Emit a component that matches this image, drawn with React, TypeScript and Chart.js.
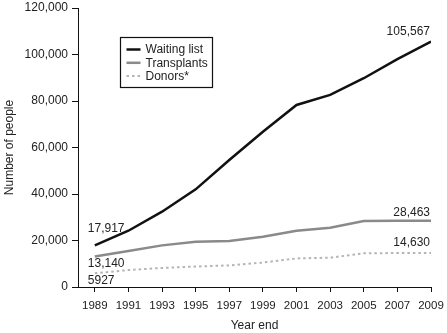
import React, { useEffect, useRef } from "react";
import { Chart, registerables } from "chart.js";

Chart.register(...registerables);

const years = [1989, 1991, 1993, 1995, 1997, 1999, 2001, 2003, 2005, 2007, 2009];
const waitingList = [17917, 24200, 32400, 42000, 54600, 66800, 78300, 82600, 89800, 98000, 105567];
const transplants = [13140, 15500, 17900, 19500, 19800, 21600, 24200, 25500, 28400, 28450, 28463];
const donors = [5927, 7300, 8200, 8800, 9300, 10500, 12300, 12600, 14500, 14600, 14630];
const seriesLabels = ["Waiting list", "Transplants", "Donors*"];
const startLabels = ["17,917", "13,140", "5927"];
const endLabels = ["105,567", "28,463", "14,630"];
const yTicks = [0, 20000, 40000, 60000, 80000, 100000, 120000];

const FONT = '"Liberation Sans", Arial, Helvetica, sans-serif';
const colors = ["#111111", "#8a8a8a", "#b4b4b4"];
const widths = [2.5, 2.5, 2];
const dashes: number[][] = [[], [], [2.5, 3]];

const annotPlugin = {
  id: "annot",
  afterDatasetsDraw(chart: any) {
    const ctx = chart.ctx;
    const xs = chart.scales.x;
    const ys = chart.scales.y;
    const data = [waitingList, transplants, donors];
    const startOff = [-17, 7, 7];
    const endOff = [-10, -8, -10];
    ctx.save();
    ctx.font = `12px ${FONT}`;
    ctx.fillStyle = "#222";
    ctx.textBaseline = "middle";
    data.forEach((arr, i) => {
      const x0 = xs.getPixelForValue(years[0]);
      const y0 = ys.getPixelForValue(arr[0]);
      ctx.textAlign = "left";
      ctx.fillText(startLabels[i], x0 - 7, y0 + startOff[i]);
      const x1 = xs.getPixelForValue(years[years.length - 1]);
      const y1 = ys.getPixelForValue(arr[arr.length - 1]);
      ctx.textAlign = "right";
      ctx.fillText(endLabels[i], x1 - 1, y1 + endOff[i]);
    });

    // legend box
    const ca = chart.chartArea;
    const bx = Math.round(ca.left + 42) + 0.5;
    const by = Math.round(ca.top + 29) + 0.5;
    const bw = 92;
    const bh = 50;
    ctx.fillStyle = "#fff";
    ctx.fillRect(bx, by, bw, bh);
    ctx.strokeStyle = "#111";
    ctx.lineWidth = 1.2;
    ctx.setLineDash([]);
    ctx.strokeRect(bx, by, bw, bh);
    seriesLabels.forEach((lab, i) => {
      const ly = by + 12 + i * 13.3;
      ctx.strokeStyle = colors[i];
      ctx.lineWidth = widths[i];
      ctx.setLineDash(dashes[i]);
      ctx.beginPath();
      ctx.moveTo(bx + 6, ly);
      ctx.lineTo(bx + 20, ly);
      ctx.stroke();
      ctx.setLineDash([]);
      ctx.fillStyle = "#222";
      ctx.textAlign = "left";
      ctx.fillText(lab, bx + 25, ly + 0.5);
    });
    ctx.restore();
  },
};

export default function App() {
  const ref = useRef<HTMLCanvasElement | null>(null);
  useEffect(() => {
    if (!ref.current) return;
    const series = [waitingList, transplants, donors];
    const chart = new Chart(ref.current, {
      type: "line",
      data: {
        datasets: series.map((arr, i) => ({
          label: seriesLabels[i],
          data: arr.map((v, j) => ({ x: years[j], y: v })),
          borderColor: colors[i],
          borderWidth: widths[i],
          borderDash: dashes[i],
          pointRadius: 0,
          tension: 0,
          fill: false,
        })),
      },
      options: {
        animation: false,
        responsive: true,
        maintainAspectRatio: false,
        layout: { padding: { left: 0, top: 8, right: 16, bottom: 0 } },
        plugins: { legend: { display: false }, tooltip: { enabled: false } },
        scales: {
          x: {
            type: "linear",
            min: 1988,
            max: 2009,
            afterBuildTicks: (scale: any) => {
              scale.ticks = years.map((y) => ({ value: y }));
            },
            afterFit: (scale: any) => {
              scale.height = 46;
              scale.paddingLeft = 0;
              scale.paddingRight = 0;
            },
            grid: {
              drawOnChartArea: false,
              drawTicks: true,
              tickLength: 5,
              color: "#111",
            },
            border: { display: true, color: "#111", width: 1 },
            ticks: {
              autoSkip: false,
              maxRotation: 0,
              padding: 7,
              color: "#222",
              font: { family: FONT, size: 11.5 },
              callback: (v: any) => String(v),
            },
            title: {
              display: true,
              text: "Year end",
              color: "#222",
              font: { family: FONT, size: 12 },
              padding: { top: 6, bottom: 0 },
            },
          },
          y: {
            min: 0,
            max: 120000,
            afterBuildTicks: (scale: any) => {
              scale.ticks = yTicks.map((v) => ({ value: v }));
            },
            afterFit: (scale: any) => {
              scale.width = 78;
              scale.paddingTop = 0;
              scale.paddingBottom = 0;
            },
            grid: {
              drawOnChartArea: false,
              drawTicks: true,
              tickLength: 6,
              color: "#111",
            },
            border: { display: true, color: "#111", width: 1 },
            ticks: {
              padding: 4,
              color: "#222",
              font: { family: FONT, size: 12 },
              callback: (v: any) => Number(v).toLocaleString("en-US"),
            },
            title: {
              display: true,
              text: "Number of people",
              color: "#222",
              font: { family: FONT, size: 12 },
              padding: { top: 2, bottom: 0 },
            },
          },
        },
      },
      plugins: [annotPlugin],
    } as any);
    return () => chart.destroy();
  }, []);
  return (
    <div style={{ position: "fixed", left: 0, top: 0, width: 447, height: 333, background: "#fff" }}>
      <canvas ref={ref} />
    </div>
  );
}
